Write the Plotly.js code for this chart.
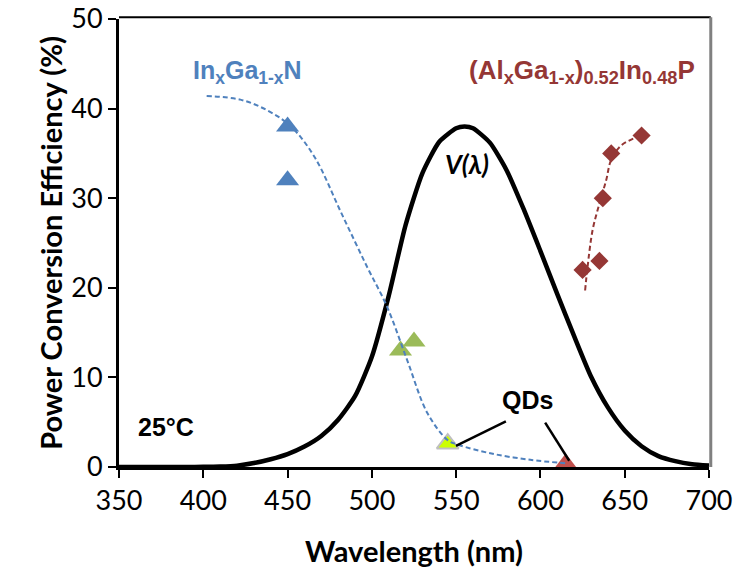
<!DOCTYPE html>
<html>
<head>
<meta charset="utf-8">
<script src="https://cdn.plot.ly/plotly-3.0.1.min.js"></script>
<style>html,body{margin:0;padding:0;background:#fff;}#chart{width:745px;height:572px;}</style>
</head>
<body>
<div id="chart"></div>
<script>
// Eye sensitivity curve V(lambda), scaled to 38 % peak
const vWavelength = [350,360,370,380,390,400,410,420,430,440,450,460,470,480,490,500,510,520,530,540,550,555,560,570,580,590,600,610,620,630,640,650,660,670,680,690,700];
const vValue = [0,0,0,0.002,0.005,0.015,0.05,0.15,0.44,0.87,1.44,2.28,3.46,5.28,7.9,12.3,19.1,27.0,32.8,36.3,37.8,38.0,37.8,36.2,33.1,28.8,24.1,19.3,14.6,10.1,6.65,4.07,2.32,1.22,0.65,0.31,0.16];

// InGaN data and fit
const inganWavelength = [450, 450];
const inganEff = [38, 32];
const inganFitWavelength = [402,422,438,452,466,482,497,509,521,533,545,551,571,594,616];
const inganFitEff = [41.4,41.0,39.8,38.0,34.6,28.3,22.4,17.9,11.9,6.0,3.0,2.5,1.5,0.8,0.4];

// Green InGaN points
const greenWavelength = [517, 525];
const greenEff = [13, 14];

// Quantum dots
const qdGreenWavelength = [545];
const qdGreenEff = [2.6];
const qdRedWavelength = [615];
const qdRedEff = [0.4];

// AlGaInP data and fit
const alganWavelength = [625, 635, 637, 642, 660];
const alganEff = [22, 23, 30, 35, 37];
const alganFitWavelength = [626.5,628,631,635,639,642,648,658,660];
const alganFitEff = [19.7,22.4,26.5,29.4,32.0,34.3,35.9,36.9,37.1];

// Axis ticks
const xTicks = [350,400,450,500,550,600,650,700];
const yTicks = [0,10,20,30,40,50];

const blue = '#4F81BD', darkRed = '#953735';

const traces = [
  {x: vWavelength, y: vValue, mode: 'lines', line: {color: '#000', width: 4.5, shape: 'spline', smoothing: 0.6}, cliponaxis: false},
  {x: inganWavelength, y: inganEff, mode: 'markers', marker: {symbol: 'triangle-up', size: 20, color: blue}},
  {x: greenWavelength, y: greenEff, mode: 'markers', marker: {symbol: 'triangle-up', size: 20, color: '#9BBB59'}},
  {x: qdGreenWavelength, y: qdGreenEff, mode: 'markers', marker: {symbol: 'triangle-up', size: 19, color: '#CCFF00', line: {color: '#BFBFBF', width: 2}}},
  {x: qdRedWavelength, y: qdRedEff, mode: 'markers', cliponaxis: false, marker: {symbol: 'triangle-up', size: 20, color: '#C0504D'}},
  {x: inganFitWavelength, y: inganFitEff, mode: 'lines', line: {color: blue, width: 2, dash: '5px,3px', shape: 'spline'}},
  {x: alganFitWavelength, y: alganFitEff, mode: 'lines', line: {color: darkRed, width: 2, dash: '5px,3px', shape: 'spline'}},
  {x: alganWavelength, y: alganEff, mode: 'markers', marker: {symbol: 'diamond', size: 14, color: darkRed}}
];

const tickFont = {family: 'Lato, "Open Sans", sans-serif', size: 27, color: '#000'};
const titleFont = {family: 'Lato, "Open Sans", sans-serif', size: 29, color: '#000', weight: 'bold'};
const annFont = (size, color) => ({family: '"Liberation Sans", Arial, sans-serif', size: size, color: color, weight: 'bold'});

const layout = {
  width: 745, height: 572,
  margin: {l: 119, r: 36, t: 19, b: 105},
  paper_bgcolor: '#fff', plot_bgcolor: '#fff',
  showlegend: false,
  xaxis: {
    range: [350, 700], tickvals: xTicks, ticktext: xTicks.map(String),
    showgrid: false, zeroline: false, showline: true, linecolor: '#000', linewidth: 3,
    ticks: 'outside', ticklen: 8, tickwidth: 2, tickcolor: '#000', tickfont: tickFont,
    title: {text: 'Wavelength (nm)', font: titleFont, standoff: 27}
  },
  yaxis: {
    range: [0, 50], tickvals: yTicks, ticktext: yTicks.map(String),
    showgrid: false, zeroline: false, showline: true, linecolor: '#000', linewidth: 3,
    ticks: 'outside', ticklen: 8, tickwidth: 2, tickcolor: '#000', tickfont: tickFont,
    title: {text: 'Power Conversion Efficiency (%)', font: titleFont, standoff: 1}
  },
  shapes: [
    {type: 'line', xref: 'paper', yref: 'paper', x0: 0, x1: 1.003, y0: 1.004, y1: 1.004, line: {color: '#000', width: 2}},
    {type: 'line', xref: 'paper', yref: 'paper', x0: 1.003, x1: 1.003, y0: 0, y1: 1.004, line: {color: '#808080', width: 3}},
    {type: 'line', xref: 'x', yref: 'y', x0: 579.5, y0: 5.1, x1: 549.9, y1: 2.35, line: {color: '#000', width: 2.5}},
    {type: 'line', xref: 'x', yref: 'y', x0: 602.8, y0: 4.95, x1: 617.1, y1: 0.7, line: {color: '#000', width: 2.5}}
  ],
  annotations: [
    {x: 426.5, y: 44.1, xref: 'x', yref: 'y', text: 'In<sub>x</sub>Ga<sub>1-x</sub>N', showarrow: false, font: annFont(25, blue)},
    {x: 624.5, y: 44.1, xref: 'x', yref: 'y', text: '(Al<sub>x</sub>Ga<sub>1-x</sub>)<sub>0.52</sub>In<sub>0.48</sub>P', showarrow: false, font: annFont(26, darkRed)},
    {x: 556.5, y: 33.8, xref: 'x', yref: 'y', text: '<i>V(λ)</i>', showarrow: false, font: {family: 'Lato, "DejaVu Sans", sans-serif', size: 26, color: '#000', weight: 'bold'}},
    {x: 592.5, y: 7.5, xref: 'x', yref: 'y', text: 'QDs', showarrow: false, font: annFont(25, '#000')},
    {x: 378, y: 4.5, xref: 'x', yref: 'y', text: '25°C', showarrow: false, font: annFont(25, '#000')}
  ]
};

Plotly.newPlot('chart', traces, layout, {staticPlot: true, displayModeBar: false});
</script>
</body>
</html>
